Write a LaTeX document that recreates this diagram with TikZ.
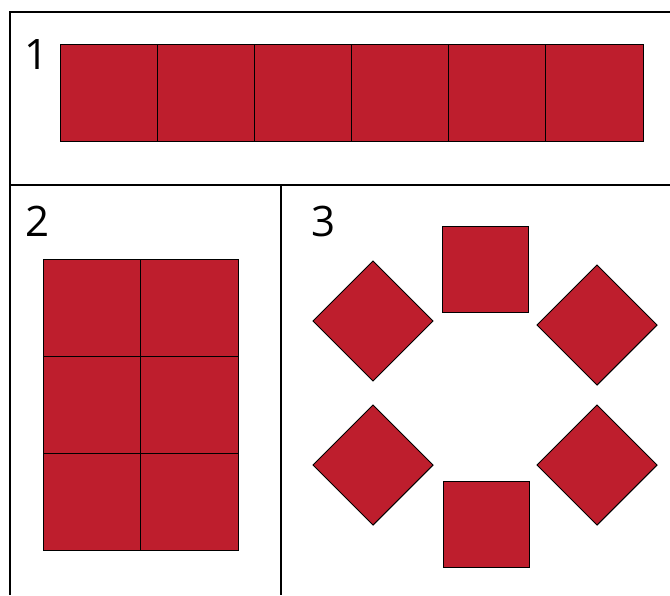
\documentclass[tikz,border=0pt]{standalone}
\usepackage{fontspec}
\setmainfont{Open Sans}
\usepackage{xcolor}
\usepackage{tikz}
\usetikzlibrary{calc, positioning}

\definecolor{tilered}{HTML}{BE1E2D}

\begin{document}
\begin{tikzpicture}[x=1pt, y=-1pt,
    tile/.style={draw=black, fill=tilered, line width=0.9pt, inner sep=0pt, outer sep=0pt},
    frame/.style={draw=black, line width=1.6pt},
    num/.style={font=\fontsize{42}{42}\selectfont, inner sep=0pt}]
    \useasboundingbox (0,0) rectangle (670,595);

    % Khung chia ba ô
    \draw[frame] (670,12) -- (10,12) -- (10,595);
    \draw[frame] (10,185) -- (670,185);
    \draw[frame] (281,185) -- (281,595);

    % Số thứ tự
    \node[num] (n1) at (37,55) {1};
    \node[num] (n2) at (38,221) {2};
    \node[num] (n3) at (324,221) {3};

    % Ô 1: một hàng sáu hình vuông
    \foreach \i in {1,...,6}
        \node[tile, minimum width=97.17pt, minimum height=97pt] (a\i) at ({60+97.17*(\i-0.5)},92.5) {};

    % Ô 2: ba hàng, hai cột
    \foreach \r/\y in {1/307.5, 2/404.5, 3/501.5}
        \foreach \c/\x in {1/91.75, 2/189.25}
            \node[tile, minimum width=97.5pt, minimum height=97pt] (b\r\c) at (\x,\y) {};

    % Ô 3: hai hình vuông và bốn hình thoi
    \node[tile, minimum size=86pt] (ct) at (485.5,269.5) {};
    \node[tile, minimum size=86pt] (cb) at (486,524) {};
    \node[tile, minimum size=85pt, rotate=45] (d1) at (373,321) {};
    \node[tile, minimum size=85pt, rotate=45] (d2) at (597,325) {};
    \node[tile, minimum size=85pt, rotate=45] (d3) at (373,465) {};
    \node[tile, minimum size=85pt, rotate=45] (d4) at (597,465) {};
\end{tikzpicture}
\end{document}
